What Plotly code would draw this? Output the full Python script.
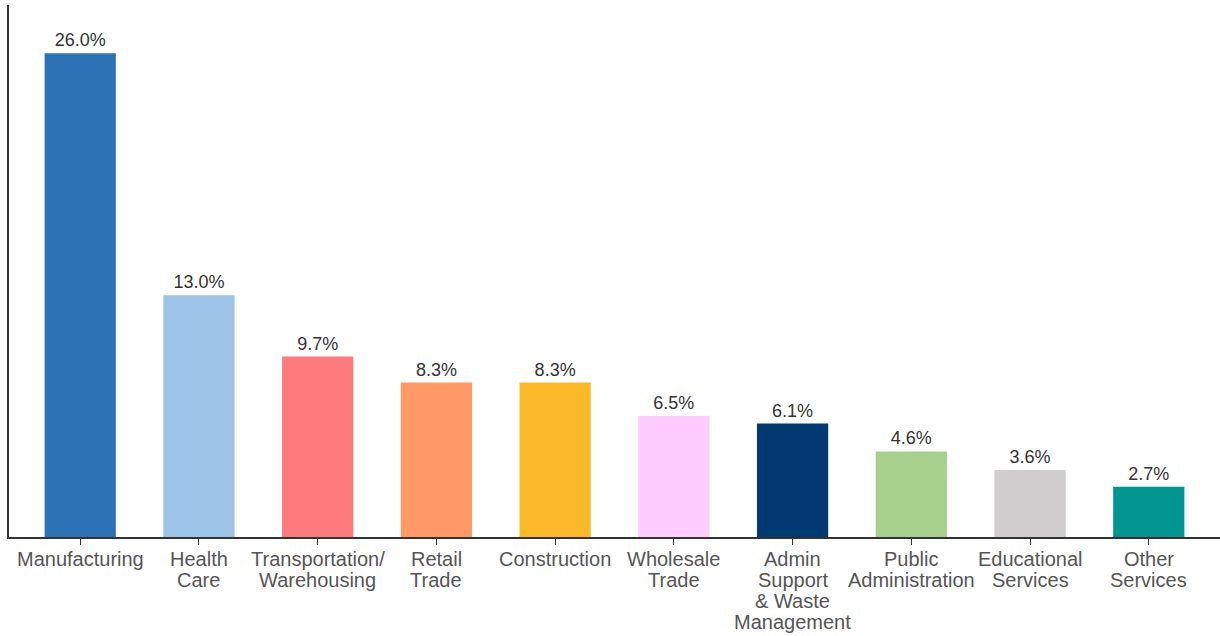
import plotly.graph_objects as go

# Share of employment by industry (percent)
industries = [
    "Manufacturing",
    "Health<br>Care",
    "Transportation/<br>Warehousing",
    "Retail<br>Trade",
    "Construction",
    "Wholesale<br>Trade",
    "Admin<br>Support<br>& Waste<br>Management",
    "Public<br>Administration",
    "Educational<br>Services",
    "Other<br>Services",
]
shares = [26.0, 13.0, 9.7, 8.3, 8.3, 6.5, 6.1, 4.6, 3.6, 2.7]
bar_colors = [
    "#2C72B4", "#9DC3E6", "#FF7A7D", "#FF9966", "#FBB829",
    "#FFCCFF", "#003A70", "#A8D08D", "#D0CECE", "#009591",
]

FONT = "Liberation Sans, Arial, sans-serif"
positions = list(range(len(industries)))

fig = go.Figure(
    go.Bar(
        x=positions,
        y=shares,
        width=0.6,
        marker=dict(color=bar_colors, line=dict(width=0)),
        text=[f"{v:.1f}%" for v in shares],
        textposition="outside",
        textfont=dict(family=FONT, size=18, color="#333333"),
        cliponaxis=False,
        hoverinfo="skip",
    )
)

# Category labels: one annotation per line so the lines sit tightly stacked
LINE_H = 21
for pos, label in zip(positions, industries):
    for k, line in enumerate(label.split("<br>")):
        fig.add_annotation(
            x=pos, xref="x",
            y=0, yref="paper",
            yanchor="top",
            yshift=-(9 + LINE_H * k),
            text=line,
            showarrow=False,
            font=dict(family=FONT, size=20, color="#555555"),
        )

fig.update_layout(
    width=1220,
    height=636,
    margin=dict(l=9, r=0, t=5, b=99),
    plot_bgcolor="white",
    paper_bgcolor="white",
    showlegend=False,
    xaxis=dict(
        tickmode="array",
        tickvals=positions,
        range=[-0.6, 9.6],
        showline=True,
        linecolor="#333333",
        linewidth=1.5,
        ticks="outside",
        ticklen=6,
        tickcolor="#333333",
        showticklabels=False,
        showgrid=False,
        zeroline=False,
    ),
    yaxis=dict(
        range=[0, 28.6],
        showline=True,
        linecolor="#333333",
        linewidth=1.5,
        showticklabels=False,
        ticks="",
        showgrid=False,
        zeroline=False,
    ),
)

fig.write_html("out.html")
